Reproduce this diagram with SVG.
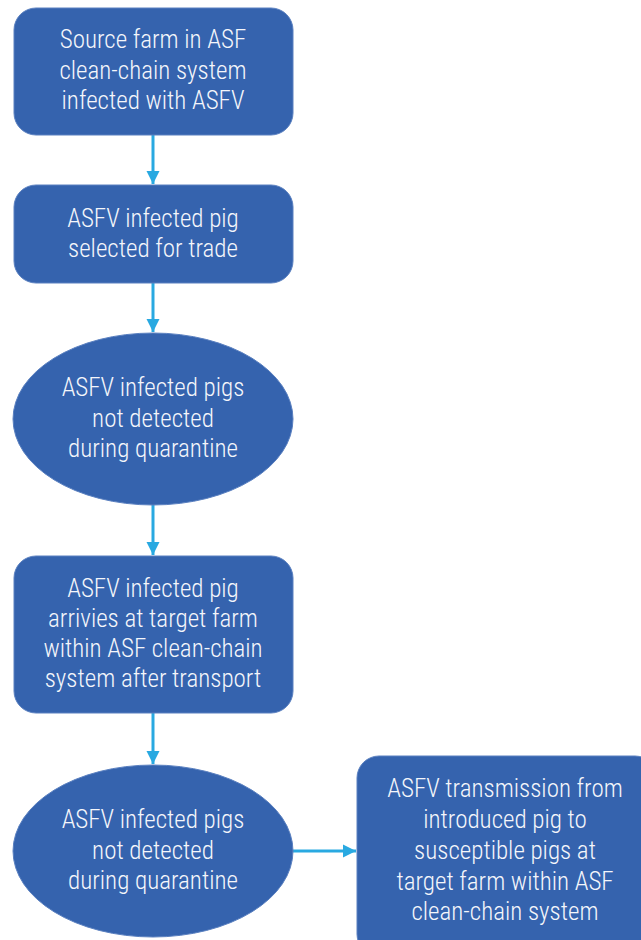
<svg xmlns="http://www.w3.org/2000/svg" width="641" height="940" viewBox="0 0 641 940">
  <style>
    .node { fill: #3563ae; stroke: #5a80c0; stroke-width: 1; }
    .lbl { fill: #f4f6fb; font-family: "Liberation Sans Narrow", "Roboto Condensed", "DejaVu Sans Condensed", sans-serif; font-stretch: condensed; font-weight: 300; font-size: 25px; text-anchor: middle; }
    .edge { stroke: #29a9e1; stroke-width: 3; fill: none; }
  </style>
  <defs>
    <marker id="arrow" viewBox="0 0 10 10" refX="10" refY="5" markerWidth="4.5" markerHeight="4.5" markerUnits="strokeWidth" orient="auto">
      <path d="M0,0 L10,5 L0,10 z" fill="#29a9e1"/>
    </marker>
  </defs>

  <g id="connectors">
    <line class="edge" x1="153" y1="135" x2="153" y2="184" marker-end="url(#arrow)"/>
    <line class="edge" x1="153" y1="283" x2="153" y2="332" marker-end="url(#arrow)"/>
    <line class="edge" x1="153" y1="505" x2="153" y2="555" marker-end="url(#arrow)"/>
    <line class="edge" x1="153" y1="713" x2="153" y2="764" marker-end="url(#arrow)"/>
    <line class="edge" x1="293" y1="851" x2="356" y2="851" marker-end="url(#arrow)"/>
  </g>

  <g id="source-farm">
    <rect class="node" x="14" y="8" width="279" height="127" rx="22"/>
    <text class="lbl" x="153" y="48">Source farm in ASF</text>
    <text class="lbl" x="153" y="79">clean-chain system</text>
    <text class="lbl" x="153" y="109">infected with ASFV</text>
  </g>

  <g id="pig-selected">
    <rect class="node" x="14" y="185" width="279" height="98" rx="22"/>
    <text class="lbl" x="153" y="227">ASFV infected pig</text>
    <text class="lbl" x="153" y="257">selected for trade</text>
  </g>

  <g id="quarantine-source">
    <ellipse class="node" cx="153" cy="419" rx="140" ry="86"/>
    <text class="lbl" x="153" y="396">ASFV infected pigs</text>
    <text class="lbl" x="153" y="427">not detected</text>
    <text class="lbl" x="153" y="457">during quarantine</text>
  </g>

  <g id="arrives-target">
    <rect class="node" x="14" y="556" width="279" height="157" rx="22"/>
    <text class="lbl" x="153" y="597">ASFV infected pig</text>
    <text class="lbl" x="153" y="627">arrivies at target farm</text>
    <text class="lbl" x="153" y="657">within ASF clean-chain</text>
    <text class="lbl" x="153" y="687">system after transport</text>
  </g>

  <g id="quarantine-target">
    <ellipse class="node" cx="153" cy="851" rx="140" ry="86"/>
    <text class="lbl" x="153" y="828">ASFV infected pigs</text>
    <text class="lbl" x="153" y="859">not detected</text>
    <text class="lbl" x="153" y="889">during quarantine</text>
  </g>

  <g id="transmission">
    <rect class="node" x="357" y="756" width="300" height="200" rx="22"/>
    <text class="lbl" x="505" y="797">ASFV transmission from</text>
    <text class="lbl" x="505" y="828">introduced pig to</text>
    <text class="lbl" x="505" y="859">susceptible pigs at</text>
    <text class="lbl" x="505" y="890">target farm within ASF</text>
    <text class="lbl" x="505" y="920">clean-chain system</text>
  </g>
</svg>
